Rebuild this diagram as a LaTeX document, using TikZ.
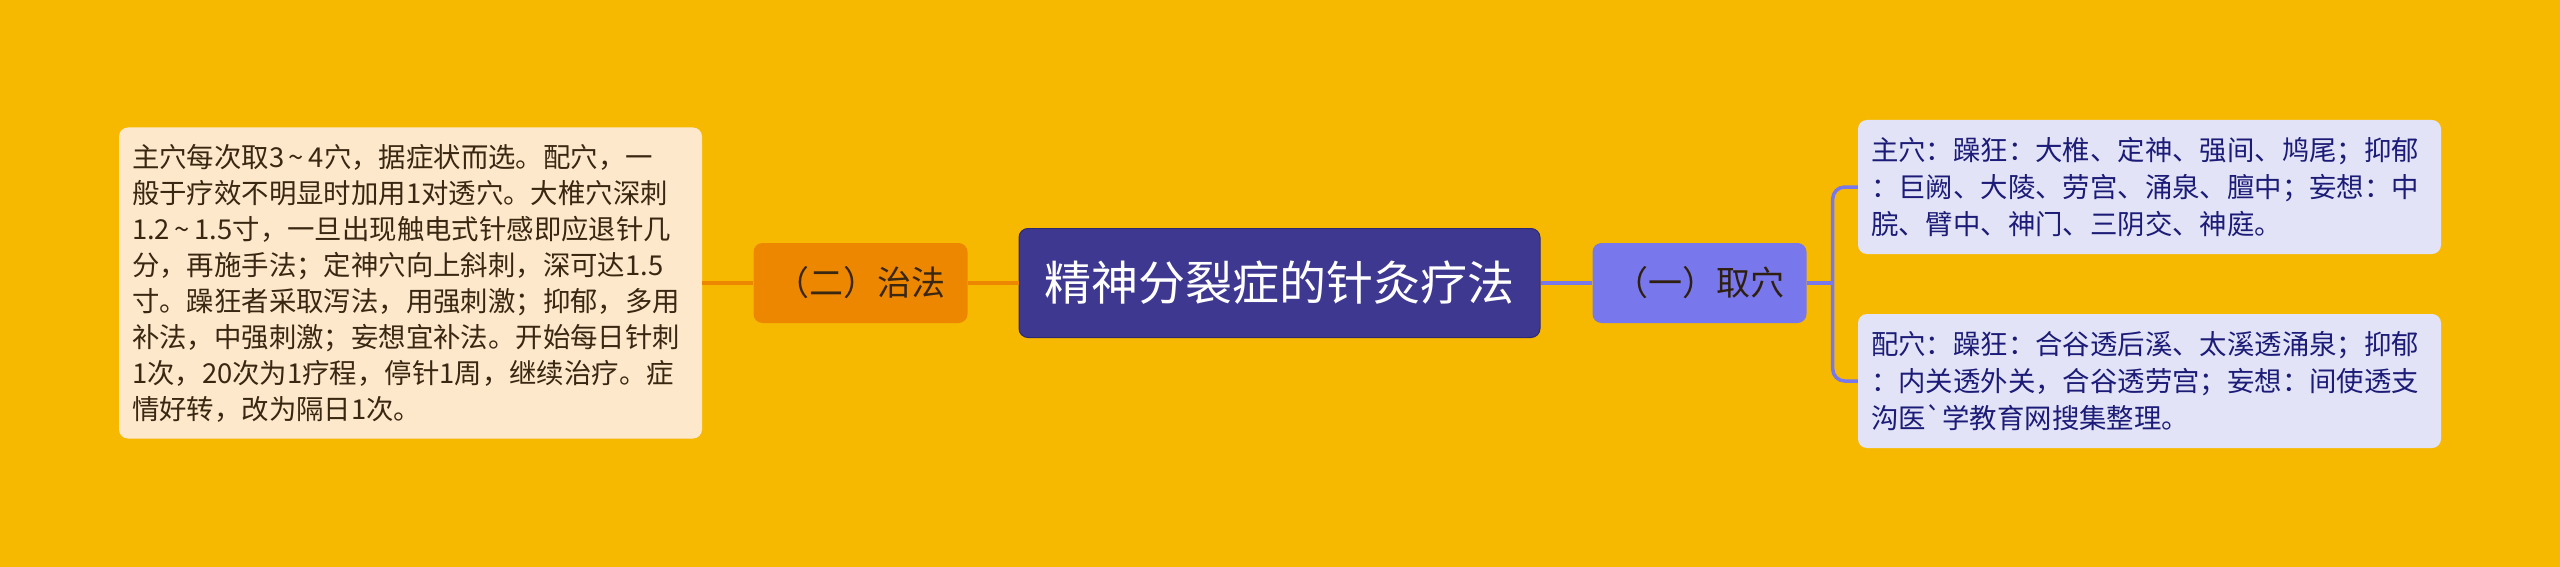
\documentclass[tikz,border=0pt]{standalone}
\usepackage{fontspec}
\setmainfont{Noto Sans CJK SC}[Ligatures=TeXOff]
\usepackage{tikz}
\usetikzlibrary{backgrounds}
\definecolor{bgGold}{HTML}{F6B900}
\definecolor{rootFill}{HTML}{3E3891}
\definecolor{rootLine}{HTML}{2E2A72}
\definecolor{zhiFill}{HTML}{EE8700}
\definecolor{quFill}{HTML}{7878EC}
\definecolor{noteCream}{HTML}{FDE8CB}
\definecolor{noteLav}{HTML}{E3E3F7}
\definecolor{inkBrown}{HTML}{3A2712}
\definecolor{inkNavy}{HTML}{1C1C78}
\newcommand{\rowY}{283}
\newcommand{\forkX}{26}
\newcommand{\rng}{\makebox[0.9em]{\textasciitilde}}
\tikzstyle{mindmap}=[x=1pt, y=-1pt]
\tikzstyle{root}=[rectangle, rounded corners=9pt, fill=rootFill, draw=rootLine, line width=1pt, text=white, minimum width=521pt, minimum height=109pt, font=\fontsize{47}{56}\selectfont]
\tikzstyle{branch}=[rectangle, rounded corners=9pt, minimum width=214pt, minimum height=80pt, font=\fontsize{34}{40}\selectfont]
\tikzstyle{branchL}=[branch, fill=zhiFill, text=inkBrown]
\tikzstyle{branchR}=[branch, fill=quFill, text=inkBrown!80!black]
\tikzstyle{note}=[rectangle, rounded corners=9pt, align=left, inner xsep=13pt, text width=557pt]
\tikzstyle{noteL}=[note, fill=noteCream, text=inkBrown, minimum height=311pt, font=\fontsize{27.4}{36}\selectfont]
\tikzstyle{noteR}=[note, fill=noteLav, text=inkNavy, minimum height=134pt, font=\fontsize{27.4}{37}\selectfont]
\tikzstyle{linkL}=[-, line width=3.5pt, draw=zhiFill]
\tikzstyle{linkR}=[-, line width=3.5pt, draw=quFill]
\begin{document}
\begin{tikzpicture}[mindmap]
	\useasboundingbox (0,0) rectangle (2560,567);
	\fill[bgGold] (0,0) rectangle (2560,567);

	\draw (1279.5,\rowY) node[root] (root) {精神分裂症的针灸疗法};
	\draw (860.5,\rowY) node[branchL] (zhi) {（二）治法};
	\draw (1699.5,\rowY) node[branchR] (qu) {（一）取穴};

	\draw (410.5,\rowY) node[noteL] (fa) {主穴每次取3\rng4穴，据症状而选。配穴，一\\般于疗效不明显时加用1对透穴。大椎穴深刺\\1.2\rng1.5寸，一旦出现触电式针感即应退针几\\分，再施手法；定神穴向上斜刺，深可达1.5\\寸。躁狂者采取泻法，用强刺激；抑郁，多用\\补法，中强刺激；妄想宜补法。开始每日针刺\\1次，20次为1疗程，停针1周，继续治疗。症\\情好转，改为隔日1次。};
	\draw (2149.5,187) node[noteR] (zhu) {主穴：躁狂：大椎、定神、强间、鸠尾；抑郁\\：巨阙、大陵、劳宫、涌泉、膻中；妄想：中\\脘、臂中、神门、三阴交、神庭。};
	\draw (2149.5,381) node[noteR] (pei) {配穴：躁狂：合谷透后溪、太溪透涌泉；抑郁\\：内关透外关，合谷透劳宫；妄想：间使透支\\沟医`学教育网搜集整理。};

	%The left branch
	\draw[linkL] (fa.east) -- (zhi.west);
	\draw[linkL] (zhi.east) -- (root.west);

	%The right branch and its fork
	\draw[linkR] (root.east) -- (qu.west);
	\draw[linkR] (qu.east) -- ++(\forkX,0) coordinate (fork);
	\draw[linkR, rounded corners=12pt] (zhu.west) -| (fork) |- (pei.west);
\end{tikzpicture}
\end{document}
